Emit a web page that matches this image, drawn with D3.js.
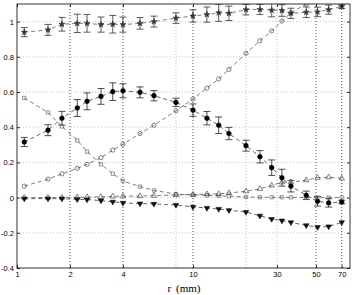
<!DOCTYPE html>
<html>
<head>
<meta charset="utf-8">
<script src="https://d3js.org/d3.v7.min.js"></script>
<style>
  body { margin: 0; background: #fff; }
  svg { display: block; }
</style>
</head>
<body>
<div id="chart"></div>
<script>

// r positions (mm), shared by every series
var rValues = [1.1, 1.5, 1.8, 2.2, 2.5, 3, 3.5, 4, 5, 6, 8, 10, 12, 14, 16, 20, 24, 28, 32, 36, 44, 51, 59, 70];

// star series (top) with error bars
var starMean = [0.94, 0.953, 0.985, 0.99, 0.99, 0.983, 0.985, 0.983, 0.99, 1.0, 1.02, 1.032, 1.04, 1.05, 1.047, 1.068, 1.069, 1.065, 1.063, 1.047, 1.053, 1.055, 1.068, 1.085];
var starErr  = [0.026, 0.031, 0.039, 0.052, 0.05, 0.043, 0.05, 0.043, 0.033, 0.031, 0.03, 0.035, 0.043, 0.049, 0.041, 0.03, 0.029, 0.038, 0.033, 0.029, 0.03, 0.027, 0.026, 0.01];

// filled circles with error bars
var dotMean = [0.316, 0.383, 0.451, 0.509, 0.547, 0.575, 0.602, 0.607, 0.598, 0.579, 0.541, 0.497, 0.451, 0.411, 0.364, 0.295, 0.232, 0.17, 0.113, 0.065, 0.013, -0.021, -0.03, -0.025];
var dotErr  = [0.026, 0.031, 0.039, 0.048, 0.048, 0.045, 0.05, 0.04, 0.031, 0.029, 0.024, 0.035, 0.038, 0.047, 0.035, 0.031, 0.035, 0.044, 0.048, 0.033, 0.024, 0.027, 0.024, 0.01];

// open circles (goes off the top after r = 44)
var ringVals = [0.065, 0.105, 0.135, 0.166, 0.189, 0.227, 0.27, 0.303, 0.364, 0.411, 0.493, 0.56, 0.622, 0.674, 0.728, 0.82, 0.891, 0.947, 1.003, 1.05, 1.1, null, null, null];

// open squares
var squareVals = [0.566, 0.484, 0.404, 0.325, 0.261, 0.189, 0.136, 0.095, 0.062, 0.041, 0.02, 0.015, 0.013, 0.01, 0.008, 0.003, 0.002, 0.002, 0.002, 0.001, 0.001, 0.0, 0.0, 0.0];

// open triangles (up)
var triUpVals = [0.0, 0.0, 0.0, 0.002, 0.003, 0.004, 0.007, 0.008, 0.009, 0.011, 0.015, 0.017, 0.02, 0.021, 0.026, 0.036, 0.05, 0.069, 0.087, 0.088, 0.099, 0.113, 0.116, 0.109];

// filled triangles (down)
var triDownVals = [-0.006, -0.006, -0.006, -0.01, -0.011, -0.017, -0.024, -0.03, -0.034, -0.036, -0.042, -0.053, -0.059, -0.065, -0.072, -0.082, -0.103, -0.122, -0.131, -0.141, -0.158, -0.168, -0.164, -0.141];

// axes
var xTicks = [1, 2, 4, 10, 30, 50, 70];
var yTicks = [-0.4, -0.2, 0, 0.2, 0.4, 0.6, 0.8, 1];
var gridDark = [2, 4, 10, 50, 70];
var gridLight = [8, 20, 30];
var xLabel = "r (mm)";

var largeur = 354, hauteur = 295;
var marge = {haut: 4, droite: 4, bas: 27, gauche: 17};

var svg = d3.select("#chart").append("svg")
  .attr("width", largeur)
  .attr("height", hauteur);

var x = d3.scaleLog().domain([1, 78]).range([marge.gauche, largeur - marge.droite]);
var y = d3.scaleLinear().domain([-0.4, 1.1]).range([hauteur - marge.bas, marge.haut]);

svg.append("clipPath").attr("id", "zone")
  .append("rect")
  .attr("x", x.range()[0]).attr("y", y.range()[1])
  .attr("width", x.range()[1] - x.range()[0])
  .attr("height", y.range()[0] - y.range()[1]);

// grille horizontale
svg.append("g").selectAll("line").data(yTicks.filter(d => d > -0.4)).join("line")
  .attr("x1", x.range()[0]).attr("x2", x.range()[1])
  .attr("y1", d => y(d)).attr("y2", d => y(d))
  .attr("stroke", "#b0b0b0").attr("stroke-width", 0.7)
  .attr("stroke-dasharray", "1,2");

// grille verticale
svg.append("g").selectAll("line").data(gridLight).join("line")
  .attr("x1", d => x(d)).attr("x2", d => x(d))
  .attr("y1", y.range()[0]).attr("y2", y.range()[1])
  .attr("stroke", "#a0a0a0").attr("stroke-width", 0.7)
  .attr("stroke-dasharray", "1,2");
svg.append("g").selectAll("line").data(gridDark).join("line")
  .attr("x1", d => x(d)).attr("x2", d => x(d))
  .attr("y1", y.range()[0]).attr("y2", y.range()[1])
  .attr("stroke", "#222").attr("stroke-width", 0.8)
  .attr("stroke-dasharray", "1,2");

var plot = svg.append("g").attr("clip-path", "url(#zone)");

function serie(vals, couleur) {
  var pts = rValues.map((r, i) => ({r: r, v: vals[i]}));
  var ligne = d3.line()
    .defined(d => d.v !== null)
    .x(d => x(d.r)).y(d => y(d.v));
  plot.append("path").datum(pts)
    .attr("d", ligne)
    .attr("fill", "none")
    .attr("stroke", couleur)
    .attr("stroke-width", 0.7)
    .attr("stroke-dasharray", "4,3");
  return pts.filter(d => d.v !== null);
}

function barres(vals, errs, couleur) {
  var pts = rValues.map((r, i) => ({r: r, v: vals[i], e: errs[i]}));
  var g = plot.append("g").attr("stroke", couleur).attr("stroke-width", 0.8);
  g.selectAll(".v").data(pts).join("line")
    .attr("x1", d => x(d.r)).attr("x2", d => x(d.r))
    .attr("y1", d => y(d.v - d.e)).attr("y2", d => y(d.v + d.e));
  [-1, 1].forEach(function(s) {
    g.selectAll(".c" + s).data(pts).join("line")
      .attr("x1", d => x(d.r) - 3.5).attr("x2", d => x(d.r) + 3.5)
      .attr("y1", d => y(d.v + s * d.e)).attr("y2", d => y(d.v + s * d.e));
  });
}

function symboles(pts, type, taille, plein, couleur, rot) {
  plot.append("g").selectAll("path").data(pts).join("path")
    .attr("d", d3.symbol().type(type).size(taille))
    .attr("transform", d => "translate(" + x(d.r) + "," + y(d.v) + ")" + (rot ? " rotate(" + rot + ")" : ""))
    .attr("fill", plein ? couleur : "none")
    .attr("stroke", couleur)
    .attr("stroke-width", 0.6);
}

// séries
var pSq = serie(squareVals, "#444");
var pUp = serie(triUpVals, "#444");
var pDown = serie(triDownVals, "#222");
var pRing = serie(ringVals, "#444");
var pDot = serie(dotMean, "#222");
var pStar = serie(starMean, "#444");

barres(starMean, starErr, "#333");
barres(dotMean, dotErr, "#222");

symboles(pSq, d3.symbolSquare, 11, false, "#555");
symboles(pUp, d3.symbolTriangle, 13, false, "#333");
symboles(pDown, d3.symbolTriangle, 13, true, "#111", 180);
symboles(pRing, d3.symbolCircle, 14, false, "#333");
symboles(pDot, d3.symbolCircle, 17, true, "#000");
symboles(pStar, d3.symbolStar, 11, true, "#333");

// cadre et axes
var police = "'Liberation Sans', Arial, sans-serif";

svg.append("rect")
  .attr("x", x.range()[0]).attr("y", y.range()[1])
  .attr("width", x.range()[1] - x.range()[0])
  .attr("height", y.range()[0] - y.range()[1])
  .attr("fill", "none").attr("stroke", "#000").attr("stroke-width", 0.8);

var fmtY = d => (d === 0 ? "0" : (d === 1 ? "1" : d3.format(".1f")(d))).replace("\u2212", "-");

svg.append("g")
  .attr("transform", "translate(0," + y.range()[0] + ")")
  .call(d3.axisBottom(x).tickValues(xTicks).tickFormat(d3.format("d")).tickSizeInner(-3).tickSizeOuter(0).tickPadding(4));
svg.append("g")
  .attr("transform", "translate(" + x.range()[0] + ",0)")
  .call(d3.axisLeft(y).tickValues(yTicks).tickFormat(fmtY).tickSizeInner(-3).tickSizeOuter(0).tickPadding(3));

// ticks miroir (haut et droite)
svg.append("g")
  .attr("transform", "translate(0," + y.range()[1] + ")")
  .call(d3.axisTop(x).tickValues(xTicks).tickFormat("").tickSizeInner(-3).tickSizeOuter(0));
svg.append("g")
  .attr("transform", "translate(" + x.range()[1] + ",0)")
  .call(d3.axisRight(y).tickValues(yTicks).tickFormat("").tickSizeInner(-3).tickSizeOuter(0));

svg.selectAll(".domain").remove();
svg.selectAll(".tick line").attr("stroke", "#000").attr("stroke-width", 0.8);
svg.selectAll(".tick text").attr("font-family", police).attr("font-size", 7.5).attr("fill", "#000");

svg.append("text")
  .attr("x", 184).attr("y", 292)
  .attr("text-anchor", "middle")
  .attr("font-family", "'Liberation Serif', 'DejaVu Serif', serif")
  .attr("font-size", 11)
  .attr("word-spacing", 2)
  .text(xLabel);

</script>
</body>
</html>
